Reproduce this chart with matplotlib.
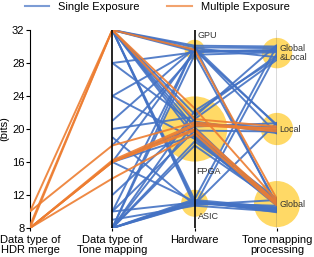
import matplotlib.pyplot as plt
import matplotlib
from matplotlib.lines import Line2D

matplotlib.rcParams.update({'font.size': 7.5, 'font.family': 'Liberation Sans'})

# valeurs des categories sur les axes (bits)
hw_names = ["GPU", "FPGA", "ASIC"]
hw_values = [29.6, 20.0, 11.0]
hw_sizes = [210, 2200, 380]
proc_names = ["Global\n&Local", "Local", "Global"]
proc_values = [29.2, 20.0, 10.9]
proc_sizes = [480, 540, 1100]

axis_labels = ["Data type of\nHDR merge", "Data type of\nTone mapping",
               "Hardware", "Tone mapping\nprocessing"]

# une exposition : type tone mapping, hardware, traitement, decalages
single_tm = [32, 32, 32, 32, 32, 32, 32, 32, 32, 32, 32, 32,
             28, 28, 24, 24, 21, 20, 19, 18, 16, 16, 16, 16,
             12, 10, 10, 10, 9, 8, 8, 8, 8, 8, 8, 8, 8, 8, 8, 8]
single_hw = [0, 0, 0, 1, 1, 1, 1, 1, 2, 2, 2, 0,
             1, 0, 1, 0, 0, 1, 2, 0, 1, 1, 2, 0,
             1, 1, 2, 0, 2, 1, 1, 0, 0, 2, 2, 2, 2, 1, 2, 1]
single_proc = [0, 0, 1, 0, 1, 2, 2, 2, 2, 2, 0, 0,
               1, 0, 2, 1, 0, 0, 2, 2, 1, 2, 2, 0,
               0, 1, 2, 1, 2, 2, 0, 0, 2, 0, 1, 2, 2, 1, 2, 2]
single_hw_off = [0.3, -0.2, 0.0, 1.8, 0.9, -0.4, 0.2, -1.0, 0.4, 0.0, -0.3, 0.5,
                 0.6, -0.3, -1.2, 0.1, 0.2, 1.5, -0.2, -0.5, 0.3, -0.8, 0.2, -0.1,
                 1.2, -0.2, 0.1, 0.3, -0.3, -1.5, 2.2, -0.6, 0.4, 0.5, -0.1, 0.3, 0.2, 0.7, 0.0, -2.0]
single_proc_off = [0.6, 0.2, 0.5, -0.3, -0.5, 0.3, -0.2, 0.1, -0.4, -0.6, 0.0, 0.8,
                   0.2, 0.4, -0.2, -0.6, -0.5, 1.0, 0.5, 0.0, 0.7, 0.6, -0.5, 0.3,
                   -0.8, -0.3, -0.7, 0.4, -0.9, 0.4, -0.6, 0.1, -0.3, 0.9, 0.8, -1.0, -0.8, -0.1, -0.2, 0.2]

# plusieurs expositions : type HDR merge, type tone mapping, hardware, traitement
multi_hdr = [10, 8, 8.3, 10, 8, 8, 8, 8, 8]
multi_tm = [32, 32, 32, 18, 16, 16, 16.2, 16, 14]
multi_hw = [0, 1, 1, 1, 1, 1, 1, 1, 1]
multi_proc = [2, 2, 1, 1, 1, 2, 1, 2, 2]
multi_hw_off = [0.0, 2.5, 1.2, 0.8, 0.4, 0.0, 0.6, -0.2, -0.6]
multi_proc_off = [0.6, 0.4, 0.3, -0.1, 0.1, 0.2, -0.3, 0.0, -0.2]

blue = "#4472C4"
orange = "#ED7D31"
yellow = "#FFD966"

fig = plt.figure(figsize=(3.14, 2.57), dpi=100)
ax = fig.add_axes([30 / 314, 1 - 228 / 257, 247 / 314, 198 / 257])

# cercles jaunes
ax.scatter([2] * 3, hw_values, s=hw_sizes, color=yellow, zorder=1, clip_on=False, lw=0)
ax.scatter([3] * 3, proc_values, s=proc_sizes, color=yellow, zorder=1, clip_on=False, lw=0)

for i in range(len(single_tm)):
    ys = [single_tm[i], hw_values[single_hw[i]] + single_hw_off[i],
          proc_values[single_proc[i]] + single_proc_off[i]]
    ax.plot([1, 2, 3], ys, color=blue, lw=1.4, alpha=0.9, zorder=2, solid_capstyle='butt')

for i in range(len(multi_tm)):
    ys = [multi_hdr[i], multi_tm[i], hw_values[multi_hw[i]] + multi_hw_off[i],
          proc_values[multi_proc[i]] + multi_proc_off[i]]
    ax.plot([0, 1, 2, 3], ys, color=orange, lw=1.4, alpha=0.9, zorder=3, solid_capstyle='butt')

# axes verticaux
ax.axvline(1, color="black", lw=1.2, zorder=4)
ax.axvline(2, color="black", lw=1.2, zorder=4)
ax.axvline(3, color="#444444", lw=1.0, zorder=4)

# etiquettes
ax.text(2.04, hw_values[0] + 1.4, "GPU", fontsize=6.5, color="#333333", zorder=5)
ax.text(2.02, hw_values[1] - 5.4, "FPGA", fontsize=6.5, color="#333333", zorder=5)
ax.text(2.04, hw_values[2] - 1.9, "ASIC", fontsize=6.5, color="#333333", zorder=5)
for v, name in zip(proc_values, proc_names):
    ax.text(3.03, v, name, fontsize=6.5, color="#333333", va="center", zorder=5,
            linespacing=1.0)

ax.set_xlim(0, 3)
ax.set_ylim(8, 32)
ax.set_yticks([8, 12, 16, 20, 24, 28, 32])
ax.set_xticks([0, 1, 2, 3])
ax.set_xticklabels(axis_labels, linespacing=1.0, fontsize=8)
ax.tick_params(axis='x', length=2, pad=3)
ax.tick_params(axis='y', length=3, pad=1, labelsize=8)
for s in ["top", "right", "bottom"]:
    ax.spines[s].set_visible(False)
ax.set_ylabel("(bits)", labelpad=2, fontsize=8)

handles = [Line2D([], [], color=blue, lw=1.5, alpha=0.7),
           Line2D([], [], color=orange, lw=1.5, alpha=0.7)]
fig.legend(handles, ["Single Exposure", "Multiple Exposure"], loc="upper center",
           ncol=2, frameon=False, bbox_to_anchor=(0.5, 1.03), handlelength=2.2,
           columnspacing=2.5, fontsize=8)

fig.savefig("out.png", dpi=100)
